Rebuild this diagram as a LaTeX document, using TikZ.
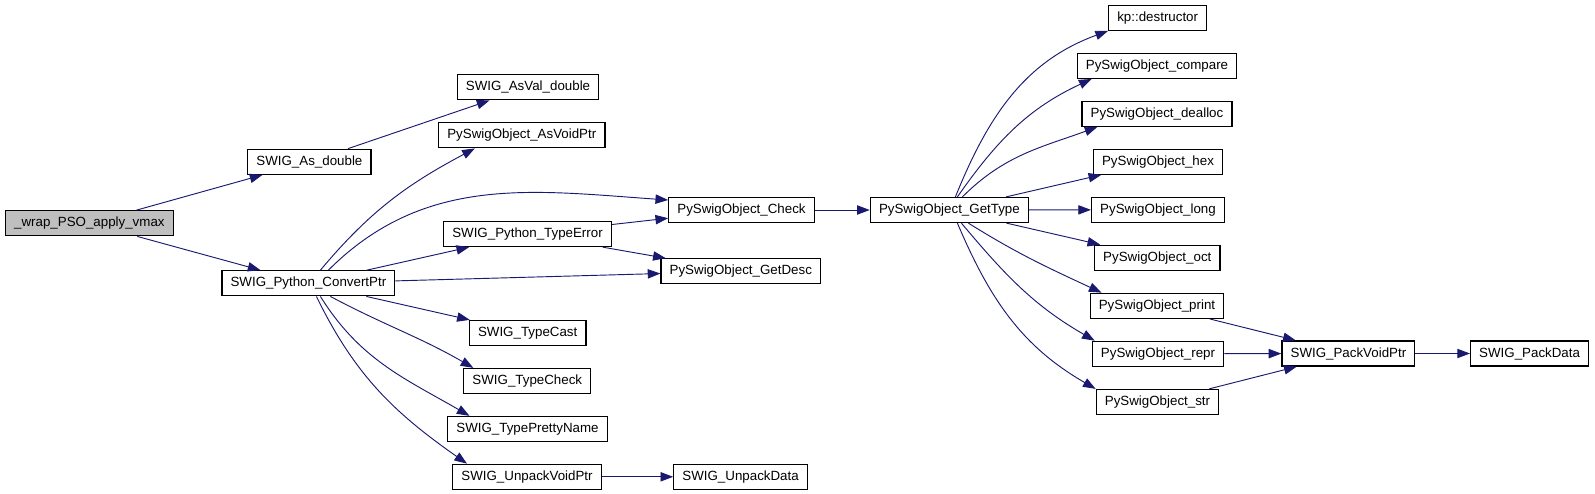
\documentclass[tikz,border=0pt]{standalone}
\usepackage{fontspec}
\setmainfont{Liberation Sans}
\usetikzlibrary{arrows.meta,calc}
\definecolor{callblue}{HTML}{191970}
\definecolor{rootgray}{HTML}{BFBFBF}
\tikzset{
  fn/.style={draw=black,line width=0.9pt,fill=white,font=\fontsize{10pt}{12pt}\selectfont,
    inner xsep=6.5pt,inner ysep=0pt,minimum height=18.8pt},
  rootfn/.style={fn,fill=rootgray},
  call/.style={draw=callblue,line width=0.7pt,-{Triangle[length=9.5pt,width=7pt]}}
}
\begin{document}
\begin{tikzpicture}[x=0.75pt,y=0.75pt]
\useasboundingbox (0,0) rectangle (1595,-493);
\node[rootfn] (wrap) at (89.4,-223.3) {\_wrap\_PSO\_apply\_vmax};
\node[fn] (asd) at (309.4,-161.8) {SWIG\_As\_double};
\node[fn] (asval) at (528,-87.3) {SWIG\_AsVal\_double};
\node[fn] (avp) at (521.8,-135.3) {PySwigObject\_AsVoidPtr};
\node[fn] (cvt) at (308.4,-283.3) {SWIG\_Python\_ConvertPtr};
\node[fn] (terr) at (527.5,-234) {SWIG\_Python\_TypeError};
\node[fn] (chk) at (741.5,-210) {PySwigObject\_Check};
\node[fn] (desc) at (740.8,-271.3) {PySwigObject\_GetDesc};
\node[fn] (tcast) at (527.7,-333) {SWIG\_TypeCast};
\node[fn] (tchk) at (527.3,-381) {SWIG\_TypeCheck};
\node[fn] (tpn) at (527.5,-429) {SWIG\_TypePrettyName};
\node[fn] (uvp) at (527,-476.8) {SWIG\_UnpackVoidPtr};
\node[fn] (udata) at (740.6,-476.8) {SWIG\_UnpackData};
\node[fn] (gtype) at (949.4,-210) {PySwigObject\_GetType};
\node[fn] (dtor) at (1157.7,-17.8) {kp::destructor};
\node[fn] (cmp) at (1157,-65.8) {PySwigObject\_compare};
\node[fn] (dealloc) at (1157,-113.8) {PySwigObject\_dealloc};
\node[fn] (hex) at (1158,-161.7) {PySwigObject\_hex};
\node[fn] (long) at (1158,-209.8) {PySwigObject\_long};
\node[fn] (oct) at (1157.3,-257.8) {PySwigObject\_oct};
\node[fn] (print) at (1157,-305.8) {PySwigObject\_print};
\node[fn] (repr) at (1158,-353.8) {PySwigObject\_repr};
\node[fn] (str) at (1157.5,-402) {PySwigObject\_str};
\node[fn] (pvp) at (1348.4,-353.5) {SWIG\_PackVoidPtr};
\node[fn] (pdata) at (1529.6,-353.5) {SWIG\_PackData};

\draw[call] (wrap) -- (asd);
\draw[call] (wrap) -- (cvt);
\draw[call] (asd) -- (asval);
\draw[call] ($(cvt.north)+(12,0)$) to[out=50,in=208] ($(avp.south)+(-47,0)$);
\draw[call] ($(cvt.north)+(20,0)$) to[out=45,in=176] ($(chk.west)+(0,10)$);
\draw[call] (cvt) -- (terr);
\draw[call] (cvt) -- (desc);
\draw[call] (terr) -- (chk);
\draw[call] (terr) -- (desc);
\draw[call] (cvt) -- (tcast);
\draw[call] ($(cvt.south)+(22,0)$) to[out=-28,in=150] ($(tchk.north)+(-54,0)$);
\draw[call] ($(cvt.south)+(12,0)$) to[out=-58,in=150] ($(tpn.north)+(-58,0)$);
\draw[call] ($(cvt.south)+(8,0)$) to[out=-64,in=145] ($(uvp.north)+(-60,0)$);
\draw[call] (uvp) -- (udata);
\draw[call] (chk) -- (gtype);
\draw[call] ($(gtype.north)+(6,0)$) to[out=68,in=200] (dtor.south west);
\draw[call] ($(gtype.north)+(8,0)$) to[out=55,in=205] ($(cmp.south west)+(15,0)$);
\draw[call] ($(gtype.north)+(13,0)$) to[out=45,in=200] ($(dealloc.south west)+(16,0)$);
\draw[call] (gtype) -- (hex);
\draw[call] (gtype) -- (long);
\draw[call] (gtype) -- (oct);
\draw[call] ($(gtype.south)+(19,0)$) to[out=-32,in=155] ($(print.north west)+(12,0)$);
\draw[call] ($(gtype.south)+(12,0)$) to[out=-50,in=150] ($(repr.north west)+(3,0)$);
\draw[call] ($(gtype.south)+(8,0)$) to[out=-67,in=150] (str.north west);
\draw[call] (print) -- (pvp);
\draw[call] (repr) -- (pvp);
\draw[call] (str) -- (pvp);
\draw[call] (pvp) -- (pdata);
\end{tikzpicture}
\end{document}
